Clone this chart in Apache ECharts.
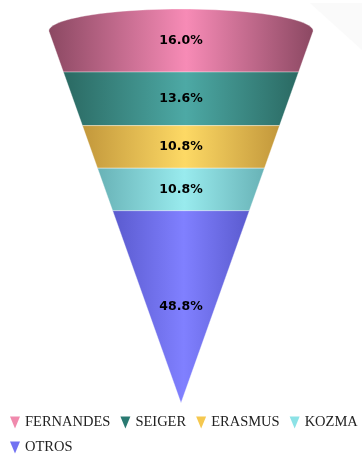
<!DOCTYPE html>
<html>
<head>
<meta charset="utf-8">
<script src="https://cdn.jsdelivr.net/npm/echarts@6/dist/echarts.min.js"></script>
<style>
  html, body { margin: 0; padding: 0; background: #ffffff; }
  #chart { width: 362px; height: 456px; }
</style>
</head>
<body>
<div id="chart"></div>
<script>
// Share of each candidate, top of the cone first
const categories = ['FERNANDES', 'SEIGER', 'ERASMUS', 'KOZMA', 'OTROS'];
const shares = [16.0, 13.6, 10.8, 10.8, 48.8];

// Flat colour (legend) and the edge / centre tones of each band's sheen
const baseColors = ['#f08aad', '#2a7a72', '#f5c84f', '#8ce2e6', '#7272f2'];
const edgeColors = ['#8b4862', '#2a6962', '#c2973b', '#68b2b6', '#5a5ace'];
const glowColors = ['#f78bb6', '#4da9a5', '#fdd965', '#99ebee', '#8080ff'];

// Stack the bands from the top (100) down to the apex (0)
const bands = [];
let level = 100;
shares.forEach(function (v) {
  const hi = level;
  level = Math.round((level - v) * 10) / 10;
  bands.push([level, hi]);
});

const RIM = 5.6; // depth of the elliptical rim on the top band, in % of height

function halfWidth(h) { return h / 100; }

function renderBand(params, api) {
  const lo = api.value(0);
  const hi = api.value(1);
  const idx = params.seriesIndex;
  const pts = [];
  pts.push(api.coord([-halfWidth(lo), lo]));
  pts.push(api.coord([halfWidth(lo), lo]));
  if (hi >= 100) {
    const h0 = hi - RIM;
    const a = halfWidth(h0);
    const steps = 48;
    for (let i = 0; i <= steps; i++) {
      const t = Math.PI * i / steps;
      pts.push(api.coord([a * Math.cos(t), h0 + RIM * Math.sin(t)]));
    }
  } else {
    pts.push(api.coord([halfWidth(hi), hi]));
    pts.push(api.coord([-halfWidth(hi), hi]));
  }
  const mid = api.coord([0, (lo + hi) / 2]);
  return {
    type: 'group',
    children: [
      {
        type: 'polygon',
        shape: { points: pts },
        style: {
          fill: new echarts.graphic.LinearGradient(0, 0, 1, 0, [
            { offset: 0, color: edgeColors[idx] },
            { offset: 0.52, color: glowColors[idx] },
            { offset: 1, color: edgeColors[idx] }
          ]),
          stroke: 'rgba(255,255,255,0.35)',
          lineWidth: 1
        }
      },
      {
        type: 'text',
        x: mid[0],
        y: mid[1],
        style: {
          text: shares[idx].toFixed(1) + '%',
          fill: '#000000',
          font: 'bold 12.5px "DejaVu Sans"',
          align: 'center',
          verticalAlign: 'middle'
        }
      }
    ]
  };
}

const chart = echarts.init(document.getElementById('chart'), null, { renderer: 'canvas' });

chart.setOption({
  backgroundColor: '#ffffff',
  animation: false,
  graphic: [{
    type: 'polygon',
    z: -10,
    silent: true,
    shape: { points: [[310, 3], [362, 3], [362, 50]] },
    style: { fill: '#fafafa' }
  }],
  grid: { left: 41, top: 9, width: 280, height: 394 },
  xAxis: { type: 'value', min: -1, max: 1, show: false },
  yAxis: { type: 'value', min: 0, max: 100, show: false },
  legend: {
    data: categories,
    left: 10,
    right: 0,
    top: 415,
    padding: 0,
    itemWidth: 10,
    itemHeight: 12,
    itemGap: 10,
    icon: 'path://M0,0 L10,0 L5,12 Z',
    textStyle: { fontFamily: 'Liberation Serif', fontSize: 14.5, color: '#222222' }
  },
  series: categories.map(function (name, i) {
    return {
      type: 'custom',
      name: name,
      coordinateSystem: 'cartesian2d',
      itemStyle: { color: baseColors[i] },
      renderItem: renderBand,
      data: [bands[i]]
    };
  })
});
</script>
</body>
</html>
